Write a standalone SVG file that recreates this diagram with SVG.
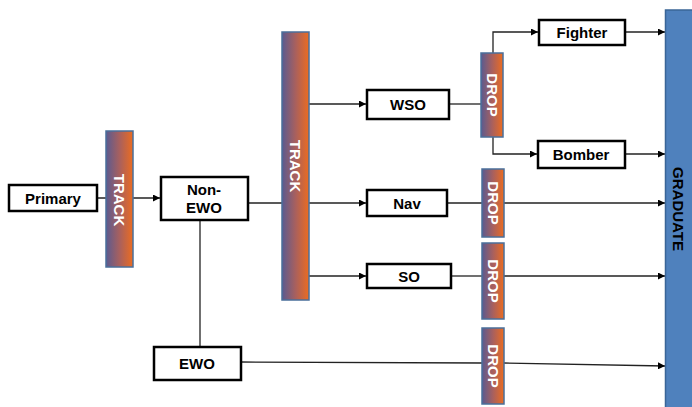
<svg xmlns="http://www.w3.org/2000/svg" width="692" height="407" viewBox="0 0 692 407">
<defs>
<linearGradient id="g" x1="0" y1="0" x2="1" y2="0">
<stop offset="0" stop-color="#5a5a90"/>
<stop offset="0.5" stop-color="#a8605e"/>
<stop offset="1" stop-color="#ec6c20"/>
</linearGradient>
<marker id="a" viewBox="0 0 10 10" refX="10" refY="5" markerWidth="7" markerHeight="7" markerUnits="userSpaceOnUse" orient="auto">
<path d="M0,0 L10,5 L0,10 z" fill="#000"/>
</marker>
<style>
.box{fill:#fff;stroke:#000;stroke-width:2.5}
.bar{fill:url(#g);stroke:#4a6f9a;stroke-width:1.5}
.t{font-family:"Liberation Sans",Arial,sans-serif;font-weight:bold;font-size:15px;text-anchor:middle;fill:#000}
.v{font-family:"Liberation Sans",Arial,sans-serif;font-weight:bold;font-size:15px;text-anchor:middle;fill:#fff}
.c{fill:none;stroke:#222;stroke-width:1.3}
.ar{marker-end:url(#a)}
</style>
</defs>
<rect width="692" height="407" fill="#fff"/>
<g id="connectors">
<path class="c ar" d="M97,198 H160"/>
<path class="c" d="M248,203 H282"/>
<path class="c" d="M200,220 V347"/>
<path class="c ar" d="M309,104 H366"/>
<path class="c ar" d="M309,203 H366"/>
<path class="c ar" d="M309,276 H366"/>
<path class="c" d="M449,104 H481"/>
<path class="c ar" d="M493,53 V32 H538"/>
<path class="c ar" d="M493,137 V154 H537"/>
<path class="c ar" d="M625,32 H665"/>
<path class="c ar" d="M625,154 H665"/>
<path class="c" d="M447,203 H482"/>
<path class="c ar" d="M504,203 H665"/>
<path class="c" d="M451,276 H482"/>
<path class="c ar" d="M504,276 H665"/>
<path class="c" d="M241,362 L482,363"/>
<path class="c ar" d="M504,363 L665,366"/>
</g>
<g id="graduate">
<rect x="665.5" y="10" width="30" height="400" fill="#4f81bd" stroke="#3a6597" stroke-width="1.5"/>
<text class="t" transform="translate(678,209) rotate(90)" y="5.5">GRADUATE</text>
</g>
<g id="primary">
<rect class="box" x="9" y="185" width="88" height="26"/>
<text class="t" x="53" y="203.5">Primary</text>
</g>
<g id="track1">
<rect class="bar" x="106" y="131" width="27" height="136"/>
<text class="v" transform="translate(119.5,200) rotate(90)" y="5.5">TRACK</text>
</g>
<g id="nonewo">
<rect class="box" x="161" y="177" width="87" height="43"/>
<text class="t" x="204" y="195">Non-</text>
<text class="t" x="204" y="213">EWO</text>
</g>
<g id="track2">
<rect class="bar" x="282" y="32" width="27" height="268"/>
<text class="v" transform="translate(295.5,166) rotate(90)" y="5.5">TRACK</text>
</g>
<g id="ewo">
<rect class="box" x="154" y="347" width="87" height="33"/>
<text class="t" x="197" y="368.5">EWO</text>
</g>
<g id="wso">
<rect class="box" x="367" y="90" width="82" height="29"/>
<text class="t" x="408" y="109.5">WSO</text>
</g>
<g id="nav">
<rect class="box" x="367" y="190" width="80" height="26"/>
<text class="t" x="407" y="208.5">Nav</text>
</g>
<g id="so">
<rect class="box" x="367" y="264" width="84" height="24"/>
<text class="t" x="409" y="281.5">SO</text>
</g>
<g id="drop1">
<rect class="bar" x="481" y="53" width="22" height="84"/>
<text class="v" transform="translate(492,95) rotate(90)" y="5.5">DROP</text>
</g>
<g id="drop2">
<rect class="bar" x="482" y="169" width="22" height="68"/>
<text class="v" transform="translate(493,203) rotate(90)" y="5.5">DROP</text>
</g>
<g id="drop3">
<rect class="bar" x="482" y="243" width="22" height="76"/>
<text class="v" transform="translate(493,281) rotate(90)" y="5.5">DROP</text>
</g>
<g id="drop4">
<rect class="bar" x="482" y="328" width="22" height="76"/>
<text class="v" transform="translate(493,366) rotate(90)" y="5.5">DROP</text>
</g>
<g id="fighter">
<rect class="box" x="539" y="20" width="86" height="25"/>
<text class="t" x="582" y="37.5">Fighter</text>
</g>
<g id="bomber">
<rect class="box" x="538" y="141" width="87" height="27"/>
<text class="t" x="581" y="159.5">Bomber</text>
</g>
</svg>
